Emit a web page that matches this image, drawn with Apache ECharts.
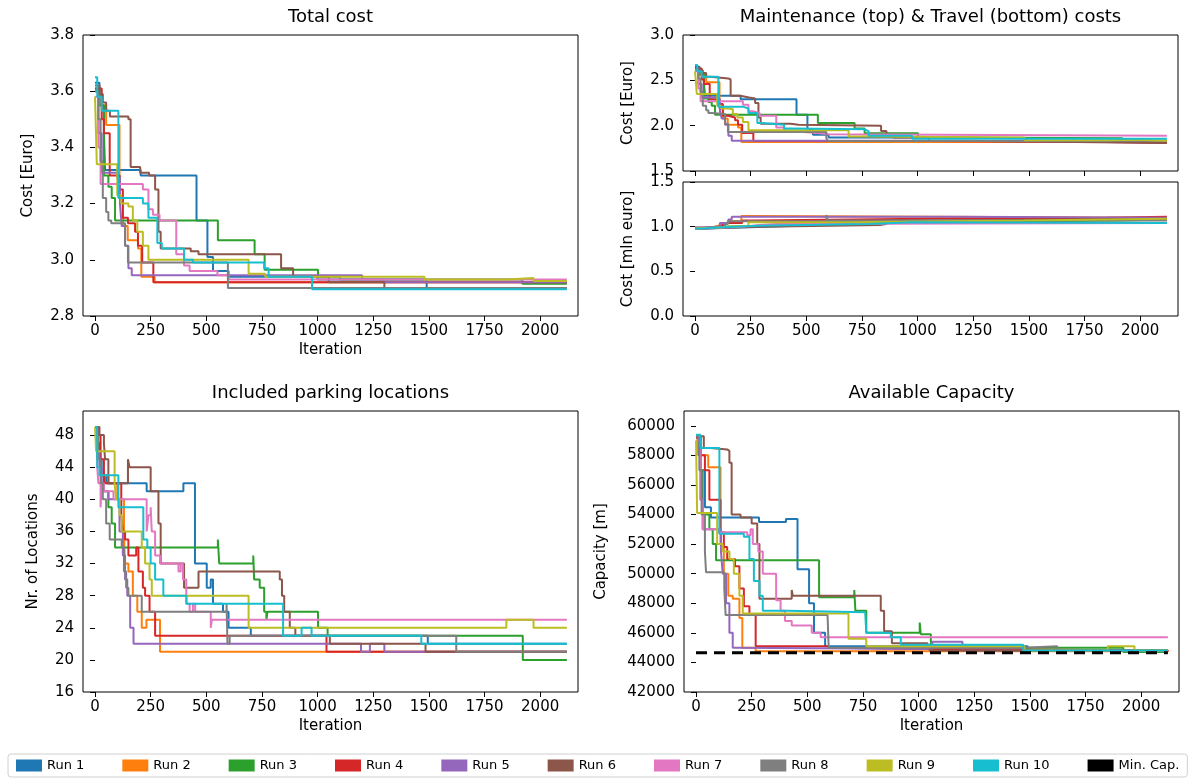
<!DOCTYPE html>
<html>
<head>
<meta charset="utf-8">
<script src="https://cdn.jsdelivr.net/npm/echarts@6/dist/echarts.min.js"></script>
<style>
  html, body { margin: 0; padding: 0; background: #fff; }
  #chart { width: 1195px; height: 779px; }
</style>
</head>
<body>
<div id="chart"></div>
<script>
// Optimisation runs: best value found so far per iteration, stored as [iteration, value] change points
const runNames = ['Run 1', 'Run 2', 'Run 3', 'Run 4', 'Run 5', 'Run 6', 'Run 7', 'Run 8', 'Run 9', 'Run 10'];
const runColors = ['#1f77b4', '#ff7f0e', '#2ca02c', '#d62728', '#9467bd', '#8c564b', '#e377c2', '#7f7f7f', '#bcbd22', '#17becf'];

const iterationTicks = [0, 250, 500, 750, 1000, 1250, 1500, 1750, 2000];
const totalTicks = [2.8, 3.0, 3.2, 3.4, 3.6, 3.8];
const maintenanceTicks = [1.5, 2.0, 2.5, 3.0];
const travelTicks = [0.0, 0.5, 1.0, 1.5];
const locationTicks = [16, 20, 24, 28, 32, 36, 40, 44, 48];
const capacityTicks = [42000, 44000, 46000, 48000, 50000, 52000, 54000, 56000, 58000, 60000];

const minCapacity = 44650;

const totalCost = [
  [[0,3.63],[20,3.55],[40,3.45],[45,3.32],[205,3.30],[456,3.14],[505,3.01],[530,2.96],[600,2.94],[1000,2.93],[1490,2.90],[2120,2.90]],
  [[0,3.60],[15,3.55],[50,3.48],[110,3.22],[125,3.12],[147,3.07],[193,3.04],[208,2.94],[268,2.92],[2120,2.92]],
  [[0,3.61],[20,3.55],[40,3.30],[60,3.26],[75,3.22],[90,3.14],[552,3.07],[717,3.02],[762,2.965],[1002,2.94],[1100,2.93],[1920,2.915],[2120,2.915]],
  [[0,3.61],[30,3.50],[40,3.45],[66,3.30],[111,3.25],[125,3.15],[148,3.13],[180,3.10],[193,3.05],[212,2.99],[262,2.92],[2120,2.92]],
  [[0,3.60],[15,3.45],[30,3.31],[100,3.29],[112,3.20],[120,3.12],[135,3.05],[150,2.97],[165,2.945],[1200,2.93],[1300,2.92],[2120,2.92]],
  [[0,3.62],[20,3.59],[35,3.56],[50,3.53],[67,3.51],[150,3.50],[160,3.33],[203,3.31],[243,3.30],[270,3.25],[285,3.10],[295,3.04],[430,3.03],[465,3.02],[836,2.97],[890,2.94],[1050,2.92],[1300,2.90],[2120,2.90]],
  [[0,3.58],[15,3.40],[25,3.27],[215,3.25],[240,3.18],[260,3.16],[290,3.14],[365,3.02],[400,2.98],[425,2.96],[550,2.945],[600,2.93],[2120,2.93]],
  [[0,3.60],[15,3.50],[25,3.35],[35,3.22],[50,3.17],[60,3.14],[73,3.13],[135,3.05],[148,2.99],[597,2.90],[2120,2.90]],
  [[0,3.58],[8,3.34],[100,3.23],[118,3.20],[150,3.19],[170,3.14],[190,3.10],[215,3.05],[240,3.00],[690,2.95],[765,2.94],[1480,2.93],[1850,2.935],[1970,2.925],[2120,2.925]],
  [[0,3.65],[10,3.58],[30,3.53],[105,3.22],[215,3.20],[240,3.15],[280,3.06],[300,3.04],[400,3.00],[440,2.99],[760,2.97],[780,2.94],[975,2.895],[2120,2.895]]
];

const maintenanceCost = [
  [[0,2.65],[20,2.57],[40,2.46],[45,2.33],[205,2.29],[456,2.12],[505,1.96],[530,1.90],[600,1.87],[1000,1.86],[1490,1.82],[2120,1.82]],
  [[0,2.61],[15,2.56],[50,2.48],[110,2.19],[125,2.08],[147,2.01],[193,1.98],[208,1.82],[268,1.82],[2120,1.82]],
  [[0,2.63],[20,2.57],[40,2.30],[60,2.26],[75,2.22],[90,2.12],[552,2.03],[717,1.97],[762,1.915],[1002,1.87],[1100,1.86],[1920,1.835],[2120,1.835]],
  [[0,2.63],[30,2.51],[40,2.46],[66,2.29],[111,2.24],[125,2.11],[148,2.09],[180,2.06],[193,2.01],[212,1.92],[262,1.83],[1040,1.82],[1850,1.81],[2120,1.81]],
  [[0,2.61],[15,2.46],[30,2.31],[100,2.29],[112,2.16],[120,2.08],[135,2.01],[150,1.89],[165,1.835],[1200,1.83],[1300,1.82],[2120,1.82]],
  [[0,2.64],[20,2.61],[35,2.58],[50,2.54],[67,2.52],[150,2.51],[160,2.33],[203,2.31],[243,2.30],[270,2.25],[285,2.09],[295,2.02],[430,2.01],[465,2.00],[836,1.94],[860,1.90],[890,1.87],[1050,1.83],[1300,1.81],[2120,1.81]],
  [[0,2.60],[15,2.41],[25,2.27],[215,2.23],[240,2.16],[260,2.14],[290,2.11],[365,1.98],[400,1.94],[425,1.92],[550,1.905],[600,1.89],[2120,1.89]],
  [[0,2.62],[15,2.52],[25,2.37],[35,2.22],[50,2.17],[60,2.14],[73,2.13],[135,2.02],[148,1.93],[590,1.86],[597,1.83],[2120,1.83]],
  [[0,2.60],[8,2.35],[100,2.22],[118,2.19],[150,2.18],[170,2.13],[190,2.09],[215,2.04],[240,1.95],[690,1.88],[765,1.87],[1480,1.84],[1850,1.845],[1970,1.835],[2120,1.835]],
  [[0,2.67],[10,2.60],[30,2.54],[105,2.21],[215,2.19],[240,2.14],[280,2.03],[300,2.01],[400,1.97],[440,1.96],[760,1.94],[780,1.89],[975,1.855],[2120,1.855]]
];

const travelCost = [
  [[0,0.98],[45,0.99],[205,1.01],[456,1.02],[505,1.05],[600,1.07],[1490,1.08],[2120,1.08]],
  [[0,0.99],[50,1.00],[110,1.03],[147,1.06],[208,1.12],[268,1.10],[2120,1.10]],
  [[0,0.98],[40,1.00],[90,1.02],[552,1.04],[717,1.05],[1002,1.07],[1920,1.08],[2120,1.08]],
  [[0,0.98],[30,0.99],[66,1.01],[125,1.04],[212,1.07],[262,1.09],[1040,1.10],[1850,1.11],[2120,1.11]],
  [[0,0.99],[30,1.00],[112,1.04],[150,1.08],[165,1.11],[1200,1.10],[2120,1.10]],
  [[0,0.98],[50,0.99],[160,1.00],[295,1.02],[836,1.03],[860,1.07],[1050,1.09],[2120,1.09]],
  [[0,0.98],[25,1.00],[215,1.02],[290,1.03],[365,1.04],[2120,1.04]],
  [[0,0.98],[35,1.00],[135,1.03],[148,1.06],[590,1.13],[597,1.07],[2120,1.07]],
  [[0,0.98],[8,0.99],[100,1.01],[240,1.05],[690,1.07],[1480,1.09],[2120,1.09]],
  [[0,0.98],[30,0.99],[105,1.01],[280,1.03],[780,1.05],[975,1.04],[2120,1.04]]
];

const parkingLocations = [
  [[0,49],[10,47],[20,45],[30,43],[50,42],[232,41],[397,42],[449,32],[502,29],[520,30],[530,27],[575,26],[600,24],[700,23],[1495,22],[2120,22]],
  [[0,49],[10,46],[25,43],[60,42],[100,40],[130,36],[134,32],[150,31],[170,28],[190,26],[210,24],[231,25],[292,21],[2120,21]],
  [[0,49],[15,45],[25,43],[40,41],[60,39],[75,37],[90,34],[552,35],[558,32],[711,33],[715,30],[740,29],[760,26],[770,25],[775,26],[1002,24],[1045,23],[1922,20],[2120,20]],
  [[0,49],[15,48],[25,45],[40,42],[118,38],[125,36],[135,35],[150,33],[185,34],[195,31],[215,29],[225,28],[245,26],[270,23],[1040,21],[2120,21]],
  [[0,49],[10,46],[20,44],[30,41],[60,40],[110,36],[125,33],[135,30],[145,28],[158,24],[173,22],[1195,21],[1235,22],[1300,21],[2120,21]],
  [[0,49],[20,48],[40,47],[45,45],[60,42],[148,45],[155,44],[250,41],[285,37],[295,32],[400,29],[465,31],[830,30],[840,28],[850,26],[875,24],[900,23],[1055,22],[1485,21],[2120,21]],
  [[0,48],[10,44],[15,42],[25,39],[30,42],[40,41],[83,40],[232,36],[240,38],[250,39],[255,36],[270,33],[292,32],[375,31],[385,32],[395,30],[410,27],[425,26],[440,27],[450,26],[520,24],[525,25],[2120,25]],
  [[0,49],[10,45],[25,42],[35,40],[50,37],[66,35],[120,34],[130,31],[140,29],[150,28],[210,26],[591,27],[595,22],[605,23],[1623,21],[2120,21]],
  [[0,49],[5,46],[88,42],[95,40],[110,38],[120,36],[210,34],[225,32],[245,30],[255,28],[690,24],[1848,25],[1970,24],[2120,24]],
  [[0,49],[10,44],[20,43],[105,39],[217,35],[235,34],[250,32],[270,30],[307,28],[411,27],[845,23],[928,24],[973,23],[1466,22],[2120,22]]
];

const availableCapacity = [
  [[0,59200],[20,57000],[40,54500],[67,53800],[283,53500],[404,53700],[456,50300],[508,48000],[530,46000],[580,45100],[1490,44800],[2120,44800]],
  [[0,59000],[15,58000],[55,57200],[110,52000],[125,50000],[145,48500],[165,48300],[195,47000],[208,45000],[268,44750],[2120,44700]],
  [[0,59200],[20,57000],[30,54000],[60,53000],[75,52000],[90,50900],[553,48400],[711,48900],[716,47500],[765,46000],[1005,46700],[1010,45900],[1055,45000],[1920,44700],[2120,44700]],
  [[0,59200],[20,58000],[40,57000],[60,55000],[110,52800],[125,51800],[140,51000],[175,50500],[195,49000],[215,47800],[240,47200],[268,45100],[590,45000],[600,44900],[1040,44800],[2120,44750]],
  [[0,59300],[10,58000],[20,55000],[30,53000],[112,51500],[120,50000],[135,48000],[150,46000],[165,45000],[175,44900],[1062,45400],[1197,44800],[2120,44800]],
  [[0,59300],[35,58500],[65,58400],[140,58300],[150,57500],[160,54000],[200,53800],[250,53400],[275,52000],[285,48300],[430,48900],[435,48500],[830,47500],[845,46100],[880,45300],[1040,45100],[1050,44800],[2120,44800]],
  [[0,59000],[20,55000],[30,53000],[100,52800],[230,52600],[245,53000],[255,52000],[280,51500],[300,50000],[360,48200],[380,47500],[400,46800],[430,46500],[520,46000],[560,45700],[2120,45700]],
  [[0,59300],[15,57000],[25,54000],[40,51500],[45,50100],[127,49000],[133,47200],[591,47300],[596,45000],[1473,45100],[1623,44800],[2120,44800]],
  [[0,59000],[5,54100],[95,52000],[120,51500],[150,51000],[170,50000],[195,48500],[210,47300],[685,45600],[765,45100],[1475,44800],[1850,45100],[1970,44800],[2120,44800]],
  [[0,59400],[20,58500],[105,52700],[215,52500],[240,51000],[260,49500],[285,48500],[300,47500],[410,47400],[760,47300],[765,46000],[875,45700],[920,45200],[1470,44800],[2120,44800]]
];

const FONT = 'DejaVu Sans, sans-serif';
const TICK_FONT = 15;

// Panel geometry (pixels): total, maintenance, travel, locations, capacity
const gridBoxes = [
  { left: 83,  top: 35,  width: 495, height: 281 },
  { left: 683, top: 35,  width: 495, height: 136 },
  { left: 683, top: 182, width: 495, height: 134 },
  { left: 83,  top: 411, width: 495, height: 281 },
  { left: 684, top: 411, width: 495, height: 281 }
];

const panelData = [totalCost, maintenanceCost, travelCost, parkingLocations, availableCapacity];

const yAxisSpecs = [
  { min: 2.8, max: 3.8, ticks: totalTicks, fmt: v => v.toFixed(1), name: 'Cost [Euro]', gap: 47 },
  { min: 1.5, max: 3.0, ticks: maintenanceTicks, fmt: v => v.toFixed(1), name: 'Cost [Euro]', gap: 47 },
  { min: 0.0, max: 1.5, ticks: travelTicks, fmt: v => v.toFixed(1), name: 'Cost [mln euro]', gap: 47 },
  { min: 16, max: 51, ticks: locationTicks, fmt: v => String(v), name: 'Nr. of Locations', gap: 42 },
  { min: 42000, max: 61000, ticks: capacityTicks, fmt: v => String(v), name: 'Capacity [m]', gap: 75 }
];

const xShowLabels = [true, false, true, true, true];
const xShowName = [true, false, false, true, true];

const grids = gridBoxes.map(b => Object.assign({
  show: true, borderColor: '#000', borderWidth: 1, backgroundColor: 'transparent'
}, b));

const xAxes = gridBoxes.map((b, i) => ({
  type: 'value', gridIndex: i, min: -54, max: 2170,
  axisLine: { show: false },
  splitLine: { show: false },
  axisTick: { show: true, customValues: iterationTicks, length: 5, lineStyle: { color: '#000', width: 1 } },
  axisLabel: {
    show: xShowLabels[i], customValues: iterationTicks, margin: 8,
    color: '#000', fontSize: TICK_FONT, fontFamily: FONT, formatter: v => String(v)
  },
  name: xShowName[i] ? 'Iteration' : '',
  nameLocation: 'middle', nameGap: 27,
  nameTextStyle: { color: '#000', fontSize: TICK_FONT, fontFamily: FONT }
}));

const yAxes = yAxisSpecs.map((s, i) => ({
  type: 'value', gridIndex: i, min: s.min, max: s.max,
  axisLine: { show: false },
  splitLine: { show: false },
  axisTick: { show: true, customValues: s.ticks, length: 5, lineStyle: { color: '#000', width: 1 } },
  axisLabel: {
    customValues: s.ticks, margin: 9, color: '#000', fontSize: TICK_FONT, fontFamily: FONT,
    formatter: s.fmt
  },
  name: s.name, nameLocation: 'middle', nameGap: s.gap, nameRotate: 90,
  nameTextStyle: { color: '#000', fontSize: TICK_FONT, fontFamily: FONT }
}));

const series = [];
panelData.forEach((runs, p) => {
  runs.forEach((pts, r) => {
    series.push({
      name: runNames[r], type: 'line', step: 'end',
      xAxisIndex: p, yAxisIndex: p,
      data: pts, showSymbol: false, symbol: 'none',
      color: runColors[r],
      lineStyle: { width: 2, color: runColors[r] },
      emphasis: { disabled: true }, silent: true, animation: false
    });
  });
});
series.push({
  name: 'Min. Cap.', type: 'line', xAxisIndex: 4, yAxisIndex: 4,
  data: [[0, minCapacity], [2120, minCapacity]],
  showSymbol: false, symbol: 'none', color: '#000',
  lineStyle: { width: 3, color: '#000', type: [11, 7] },
  silent: true, animation: false
});

const titleText = (text, x, y) => ({
  type: 'text', x: x, y: y, silent: true,
  style: { text: text, fill: '#000', font: '18px ' + FONT, textAlign: 'center', textVerticalAlign: 'top' }
});

const option = {
  animation: false,
  backgroundColor: '#fff',
  textStyle: { fontFamily: FONT },
  grid: grids,
  xAxis: xAxes,
  yAxis: yAxes,
  series: series,
  legend: {
    data: runNames.concat(['Min. Cap.']),
    left: 8, bottom: 2, width: 1184,
    icon: 'rect', itemWidth: 26, itemHeight: 12, itemGap: 38,
    padding: [5, 8], borderColor: '#d0d0d0', borderWidth: 1, borderRadius: 3,
    textStyle: { color: '#000', fontSize: 13, fontFamily: FONT },
    selectedMode: false
  },
  graphic: [
    titleText('Total cost', 330.5, 8),
    titleText('Maintenance (top) & Travel (bottom) costs', 930.5, 8),
    titleText('Included parking locations', 330.5, 384),
    titleText('Available Capacity', 931.5, 384)
  ]
};

const chart = echarts.init(document.getElementById('chart'), null, { renderer: 'canvas' });
chart.setOption(option);
</script>
</body>
</html>
